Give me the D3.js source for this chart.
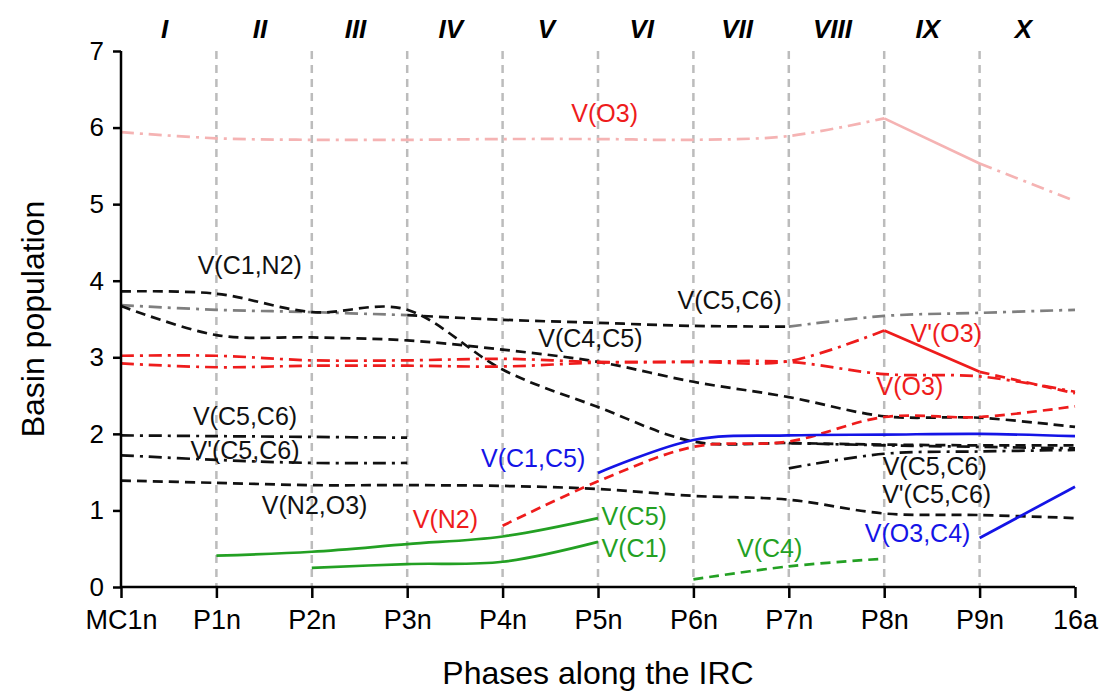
<!DOCTYPE html>
<html>
<head>
<meta charset="utf-8">
<script src="https://cdn.jsdelivr.net/npm/d3@7"></script>
<style>
    body { margin: 0; background: #fff; }
    text { font-family: "Liberation Sans", Arial, sans-serif; }
</style>
</head>
<body>
<div id="chart"></div>
<script>
// phases along the IRC (x categories) and the domains on top
var phases = ["MC1n", "P1n", "P2n", "P3n", "P4n", "P5n", "P6n", "P7n", "P8n", "P9n", "16a"];
var domains = ["I", "II", "III", "IV", "V", "VI", "VII", "VIII", "IX", "X"];
var yTicks = [0, 1, 2, 3, 4, 5, 6, 7];

// basin populations, one value per phase (null = basin absent)
var vO3Pale   = [5.94, 5.86, 5.84, 5.84, 5.85, 5.85, 5.84, 5.89, 6.12, 5.53, 5.04];
var vC1N2     = [3.86, 3.83, 3.59, 3.62, 2.84, 2.35, 1.90, 1.88, 1.86, 1.85, 1.85];
var vC5C6Up   = [3.68, 3.62, 3.59, 3.55, 3.49, 3.45, 3.41, 3.40, 3.54, 3.58, 3.62];
var vC4C5     = [3.67, 3.29, 3.26, 3.22, 3.10, 2.94, 2.68, 2.48, 2.23, 2.21, 2.09];
var vpO3      = [3.02, 3.02, 2.96, 2.96, 2.98, 2.94, 2.94, 2.95, 3.35, 2.81, 2.53];
var vO3       = [2.92, 2.87, 2.89, 2.89, 2.88, 2.93, 2.94, 2.94, 2.78, 2.75, 2.55];
var vC5C6     = [1.98, 1.97, 1.96, 1.95, null, null, null, 1.55, 1.74, 1.77, 1.79];
var vpC5C6    = [1.72, 1.66, 1.62, 1.62, null, null, null, 1.88, 1.85, 1.83, 1.81];
var vN2O3     = [1.39, 1.36, 1.33, 1.33, 1.32, 1.28, 1.19, 1.14, 0.96, 0.94, 0.90];
var vN2       = [null, null, null, null, 0.80, 1.38, 1.83, 1.90, 2.22, 2.22, 2.36];
var vC1C5     = [null, null, null, null, null, 1.49, 1.92, 1.98, 1.99, 2.00, 1.97];
var vO3C4     = [null, null, null, null, null, null, null, null, null, 0.64, 1.31];
var vC5       = [null, 0.41, 0.46, 0.56, 0.66, 0.90, null, null, null, null, null];
var vC1       = [null, null, 0.25, 0.30, 0.33, 0.59, null, null, null, null, null];
var vC4       = [null, null, null, null, null, null, 0.10, 0.27, 0.37, null, null];

var pale = "#f5b3b3", red = "#ee1c1c", blue = "#1414e6", green = "#23a023", grey = "#7f7f7f", black = "#111";

// line pieces: which values, which phase range, which colour / dash
var pieces = [
    {v: vO3Pale, from: 0, to: 8, color: pale, dash: "dashdot"},
    {v: vO3Pale, from: 8, to: 9, color: pale, dash: "solid"},
    {v: vO3Pale, from: 9, to: 10, color: pale, dash: "dashdot"},
    {v: vC5C6Up, from: 0, to: 3, color: grey, dash: "dashdot"},
    {v: vC5C6Up, from: 3, to: 7, color: black, dash: "dash"},
    {v: vC5C6Up, from: 7, to: 10, color: grey, dash: "dashdot"},
    {v: vC1N2, from: 0, to: 10, color: black, dash: "dash"},
    {v: vC4C5, from: 0, to: 10, color: black, dash: "dash"},
    {v: vO3, from: 0, to: 10, color: red, dash: "dashdot"},
    {v: vpO3, from: 0, to: 8, color: red, dash: "dashdot"},
    {v: vpO3, from: 8, to: 9, color: red, dash: "solid"},
    {v: vpO3, from: 9, to: 10, color: red, dash: "dash"},
    {v: vC5C6, from: 0, to: 3, color: black, dash: "dashdot"},
    {v: vC5C6, from: 7, to: 10, color: black, dash: "dashdot"},
    {v: vpC5C6, from: 0, to: 3, color: black, dash: "dashdot"},
    {v: vpC5C6, from: 7, to: 10, color: black, dash: "dashdot"},
    {v: vN2O3, from: 0, to: 10, color: black, dash: "dash"},
    {v: vN2, from: 4, to: 10, color: red, dash: "dash"},
    {v: vC1C5, from: 5, to: 10, color: blue, dash: "solid"},
    {v: vO3C4, from: 9, to: 10, color: blue, dash: "solid"},
    {v: vC5, from: 1, to: 5, color: green, dash: "solid"},
    {v: vC1, from: 2, to: 5, color: green, dash: "solid"},
    {v: vC4, from: 6, to: 8, color: green, dash: "dash"}
];

// basin names, placed in data coordinates (phase index, population)
var labels = [
    {t: "V(O3)", i: 5.07, p: 6.19, color: red},
    {t: "V(C1,N2)", i: 1.35, p: 4.20, color: black},
    {t: "V(C5,C6)", i: 6.38, p: 3.75, color: black},
    {t: "V(C4,C5)", i: 4.92, p: 3.25, color: black},
    {t: "V'(O3)", i: 8.65, p: 3.32, color: red},
    {t: "V(O3)", i: 8.27, p: 2.62, color: red},
    {t: "V(C5,C6)", i: 1.30, p: 2.23, color: black},
    {t: "V'(C5,C6)", i: 1.30, p: 1.79, color: black},
    {t: "V(C1,C5)", i: 4.32, p: 1.68, color: blue},
    {t: "V(N2,O3)", i: 2.03, p: 1.07, color: black},
    {t: "V(N2)", i: 3.40, p: 0.89, color: red},
    {t: "V(C5)", i: 5.38, p: 0.93, color: green},
    {t: "V(C1)", i: 5.38, p: 0.51, color: green},
    {t: "V(C4)", i: 6.80, p: 0.50, color: green},
    {t: "V(C5,C6)", i: 8.53, p: 1.58, color: black},
    {t: "V'(C5,C6)", i: 8.55, p: 1.21, color: black},
    {t: "V(O3,C4)", i: 8.35, p: 0.70, color: blue}
];

var W = 1102, H = 691;
var margin = {top: 51, right: 27, bottom: 104, left: 121};
var width = W - margin.left - margin.right,
    height = H - margin.top - margin.bottom;

var svg = d3.select("#chart").append("svg")
    .attr("width", W)
    .attr("height", H);
var g = svg.append("g")
    .attr("transform", "translate(" + margin.left + "," + margin.top + ")");

var x = d3.scaleLinear().domain([0, phases.length - 1]).range([0, width]);
var y = d3.scaleLinear().domain([0, 7]).range([height, 0]);

// vertical phase separators
g.selectAll(".grid")
    .data(d3.range(1, phases.length - 1))
    .enter().append("line")
    .attr("class", "grid")
    .attr("x1", function (d) { return x(d); })
    .attr("x2", function (d) { return x(d); })
    .attr("y1", 0)
    .attr("y2", height)
    .style("stroke", "#bcbcbc")
    .style("stroke-width", 2.5)
    .style("stroke-dasharray", "8,6");

// domain numerals on top
g.selectAll(".dom")
    .data(domains)
    .enter().append("text")
    .attr("class", "dom")
    .attr("x", function (d, i) { return x(i + 0.5) - 4; })
    .attr("y", -13)
    .attr("text-anchor", "middle")
    .style("font-size", "26px")
    .style("font-weight", "bold")
    .style("font-style", "italic")
    .text(function (d) { return d; });

var dashes = {solid: null, dash: "10,6", dashdot: "13,6,3,6"};

var line = d3.line()
    .defined(function (d) { return d.v != null; })
    .x(function (d) { return x(d.i); })
    .y(function (d) { return y(d.v); })
    .curve(d3.curveCardinal.tension(0));

pieces.forEach(function (s) {
    var pts = d3.range(s.from, s.to + 1).map(function (i) { return {i: i, v: s.v[i]}; });
    g.append("path")
        .datum(pts)
        .attr("d", line)
        .style("fill", "none")
        .style("stroke", s.color)
        .style("stroke-width", 2.7)
        .style("stroke-dasharray", dashes[s.dash]);
});

// axes
var xAxis = g.append("g")
    .attr("transform", "translate(0," + height + ")")
    .call(d3.axisBottom(x).tickValues(d3.range(phases.length))
        .tickFormat(function (d) { return phases[d]; })
        .tickSize(11).tickPadding(12));
xAxis.selectAll("text").style("font-size", "27px").style("fill", "#000");

var yAxis = g.append("g")
    .call(d3.axisLeft(y).tickValues(yTicks).tickFormat(d3.format("d"))
        .tickSize(8).tickPadding(9));
yAxis.selectAll("text").style("font-size", "26px").style("fill", "#000");

svg.selectAll(".domain, .tick line")
    .style("stroke", "#000")
    .style("stroke-width", 2.5);
xAxis.select(".domain").attr("d", "M0,0H" + width);
yAxis.select(".domain").attr("d", "M0," + height + "V0");

// basin labels
g.selectAll(".lab")
    .data(labels)
    .enter().append("text")
    .attr("class", "lab")
    .attr("x", function (d) { return x(d.i); })
    .attr("y", function (d) { return y(d.p); })
    .attr("dy", "0.35em")
    .attr("text-anchor", "middle")
    .style("font-size", "25px")
    .style("fill", function (d) { return d.color; })
    .text(function (d) { return d.t; });

// axis titles
svg.append("text")
    .attr("x", margin.left + width / 2)
    .attr("y", 684)
    .attr("text-anchor", "middle")
    .style("font-size", "32px")
    .text("Phases along the IRC");

svg.append("text")
    .attr("transform", "translate(44," + (margin.top + height / 2) + ") rotate(-90)")
    .attr("text-anchor", "middle")
    .style("font-size", "32px")
    .text("Basin population");
</script>
</body>
</html>
